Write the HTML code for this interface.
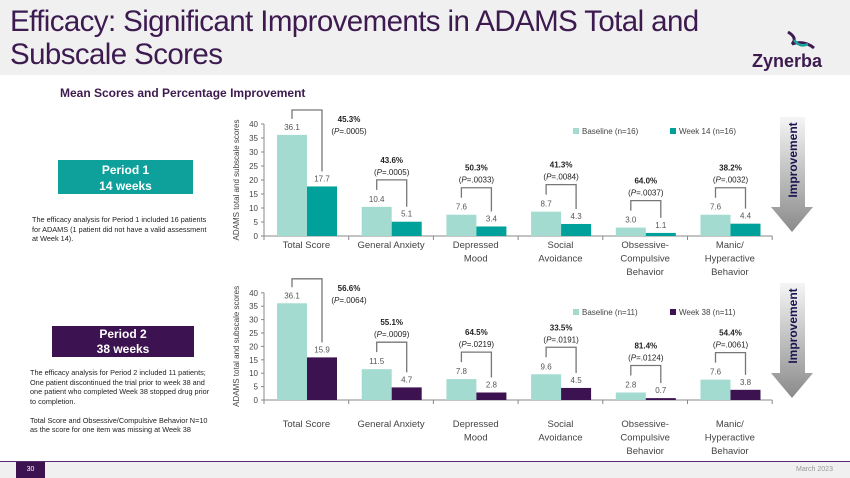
<!DOCTYPE html>
<html><head><meta charset="utf-8"><style>
body{margin:0;width:850px;height:478px;overflow:hidden;background:#fff;font-family:"Liberation Sans",sans-serif;position:relative}
.abs{position:absolute}
</style></head><body>
<div class="abs" style="left:0;top:0;width:850px;height:75px;background:#f0f0f0"></div>
<div class="abs" style="left:10px;top:5px;font-size:29.5px;line-height:33px;color:#3d1a4f;letter-spacing:-0.6px">Efficacy: Significant Improvements in ADAMS Total and<br>Subscale Scores</div>
<div class="abs" style="left:752px;top:51px;font-size:18px;font-weight:bold;color:#3d1a4f">Zynerba</div>
<svg class="abs" style="left:780px;top:28px" width="40" height="24"><path d="M8 4 Q18 10 12 16 Q24 12 34 20" stroke="#3d1a4f" stroke-width="3" fill="none"/><path d="M14 12 Q20 20 28 16" stroke="#1aa39a" stroke-width="2.5" fill="none"/></svg>
<div class="abs" style="left:60px;top:86px;font-size:12px;font-weight:bold;color:#3d1a4f">Mean Scores and Percentage Improvement</div>

<div class="abs" style="left:58px;top:160px;width:135px;height:34px;background:#0ea09a;color:#fff;font-weight:bold;font-size:12px;text-align:center;line-height:16px;padding-top:2px;box-sizing:border-box">Period 1<br>14 weeks</div>
<div class="abs" style="left:32px;top:215px;width:175px;font-size:7.3px;line-height:9.5px;color:#222">The efficacy analysis for Period 1 included 16 patients for ADAMS (1 patient did not have a valid assessment at Week 14).</div>
<div class="abs" style="left:52px;top:326px;width:142px;height:31px;background:#3d1250;color:#fff;font-weight:bold;font-size:12px;text-align:center;line-height:15px;padding-top:1px;box-sizing:border-box">Period 2<br>38 weeks</div>
<div class="abs" style="left:30px;top:368px;width:180px;font-size:7.3px;line-height:9.5px;color:#222">The efficacy analysis for Period 2 included 11 patients; One patient discontinued the trial prior to week 38 and one patient who completed Week 38 stopped drug prior to completion.<br><br>Total Score and Obsessive/Compulsive Behavior N=10 as the score for one item was missing at Week 38</div>

<svg class="abs" style="left:0;top:0" width="850" height="478" id="charts">
<defs><linearGradient id="ag2" x1="0" y1="0" x2="0" y2="1"><stop offset="0" stop-color="#f5f5f5"/><stop offset="1" stop-color="#8a8a8a"/></linearGradient></defs>
</svg>
<div class="abs" style="left:0;top:461px;width:850px;height:1px;background:#5a2a6e"></div>
<div class="abs" style="left:0;top:462px;width:850px;height:16px;background:#f0f0f0"></div>
<div class="abs" style="left:16px;top:462px;width:29px;height:16px;background:#3d1250;color:#fff;font-size:7px;line-height:16px;text-align:center">30</div>
<div class="abs" style="left:796px;top:466px;font-size:7px;color:#999">March 2023</div>
<script>
const categories=[["Total Score"],["General Anxiety"],["Depressed","Mood"],["Social","Avoidance"],["Obsessive-","Compulsive","Behavior"],["Manic/","Hyperactive","Behavior"]];
const base1=[36.1,10.4,7.6,8.7,3.0,7.6];
const week14=[17.7,5.1,3.4,4.3,1.1,4.4];
const pct1=["45.3%","43.6%","50.3%","41.3%","64.0%","38.2%"];
const p1=[".0005",".0005",".0033",".0084",".0037",".0032"];
const base2=[36.1,11.5,7.8,9.6,2.8,7.6];
const week38=[15.9,4.7,2.8,4.5,0.7,3.8];
const pct2=["56.6%","55.1%","64.5%","33.5%","81.4%","54.4%"];
const p2=[".0064",".0009",".0219",".0191",".0124",".0061"];
const yTicks=[0,5,10,15,20,25,30,35,40];
const svg=document.getElementById('charts');
const NS="http://www.w3.org/2000/svg";
function mk(t,a,txt){const e=document.createElementNS(NS,t);for(const k in a)e.setAttribute(k,a[k]);if(txt!==undefined)e.textContent=txt;svg.appendChild(e);return e;}
function chart(cfg){
  const x0=264,cw=84.7,y0=cfg.y0,ppu=cfg.ppu;
  const y=v=>y0-v*ppu;
  let e=mk('line',{x1:x0,y1:y(0),x2:x0,y2:y(40),stroke:'#888'});
  
  e=mk('line',{x1:x0,y1:y0,x2:x0+cw*6,y2:y0,stroke:'#888'});
  
  yTicks.forEach(t=>{
    e=mk('text',{x:x0-6,y:y(t)+3,'font-size':8,'text-anchor':'end',fill:'#444'},t);
    
    mk('line',{x1:x0-3,x2:x0,y1:y(t),y2:y(t),stroke:'#888'});
  });
  for(let i=0;i<=6;i++)mk('line',{x1:x0+i*cw,x2:x0+i*cw,y1:y0,y2:y0+4,stroke:'#888'});
  e=mk('text',{x:0,y:0,'font-size':8,fill:'#444','text-anchor':'middle',transform:`translate(${x0-25},${y(20)}) rotate(-90)`},'ADAMS total and subscale scores');
  
  categories.forEach((c,i)=>{
    const bx=x0+i*cw+13,b=cfg.base[i],w=cfg.week[i];
    e=mk('rect',{x:bx,y:y(b),width:30,height:b*ppu,fill:'#a3dbd1'});
    
    e=mk('rect',{x:bx+30,y:y(w),width:30,height:w*ppu,fill:cfg.wc});
    
    mk('text',{x:bx+15,y:y(b)-5,'font-size':8,'text-anchor':'middle',fill:'#555'},b.toFixed(1));
    mk('text',{x:bx+45,y:y(w)-5,'font-size':8,'text-anchor':'middle',fill:'#555'},w.toFixed(1));
    c.forEach((l,k)=>{e=mk('text',{x:x0+i*cw+cw/2,y:cfg.ly+k*13.5,'font-size':9.5,'text-anchor':'middle',fill:'#444'},l);
      });
    let top,lb;
    if(i===0){top=cfg.y0-40*ppu-14;lb=y(b)-16;}else{top=y(b)-27;lb=y(b)-17;}
    const rb=y(w)-15;
    e=mk('path',{d:`M${bx+15} ${lb}V${top}H${bx+45}V${rb}`,fill:'none',stroke:'#777','stroke-width':1.3});
    
    const tx=i===0?bx+72:bx+30,ty=i===0?top+12:top-17;
    mk('text',{x:tx,y:ty,'font-size':8,'font-weight':'bold','text-anchor':'middle',fill:'#222'},cfg.pct[i]);
    const pt=mk('text',{x:tx,y:ty+12,'font-size':8,'text-anchor':'middle',fill:'#222'});
    pt.innerHTML=`(<tspan font-style="italic">P</tspan>=${cfg.p[i]})`;
  });
  mk('rect',{x:573,y:cfg.legY-6,width:6,height:6,fill:'#a3dbd1'});
  mk('text',{x:582,y:cfg.legY,'font-size':8,fill:'#444'},cfg.l1);
  mk('rect',{x:670,y:cfg.legY-6,width:6,height:6,fill:cfg.wc});
  mk('text',{x:679,y:cfg.legY,'font-size':8,fill:'#444'},cfg.l2);
  const ay=cfg.ay;
  e=mk('path',{d:`M780 ${ay}H805V${ay+90}H813L792 ${ay+115}L771 ${ay+90}H780Z`,fill:'url(#ag2)'});
  
  mk('text',{x:0,y:0,'font-size':12,'font-weight':'bold',fill:'#1a1550','text-anchor':'middle',transform:`translate(797,${ay+43}) rotate(-90)`},'Improvement');
}
chart({y0:236,ppu:2.8,base:base1,week:week14,pct:pct1,p:p1,wc:'#00a19a',ly:248,legY:134,l1:'Baseline (n=16)',l2:'Week 14 (n=16)',ay:117});
chart({y0:400,ppu:2.68,base:base2,week:week38,pct:pct2,p:p2,wc:'#3d1250',ly:427,legY:315,l1:'Baseline (n=11)',l2:'Week 38 (n=11)',ay:283});
</script>
</body></html>
